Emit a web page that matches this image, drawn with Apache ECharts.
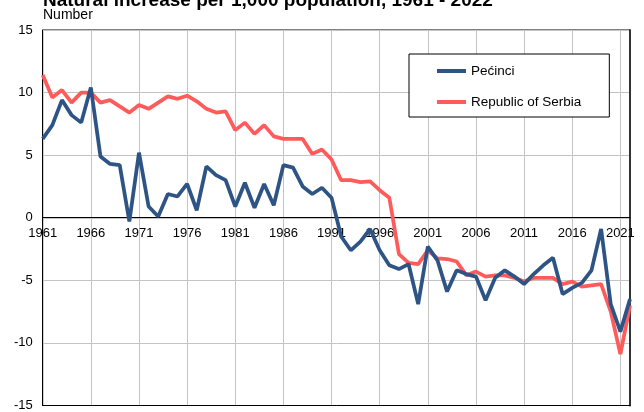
<!DOCTYPE html>
<html>
<head>
<meta charset="utf-8">
<script src="https://cdn.jsdelivr.net/npm/echarts@6/dist/echarts.min.js"></script>
<style>
html,body{margin:0;padding:0;background:#fff;}
#chart{width:644px;height:412px;}
</style>
</head>
<body>
<div id="chart"></div>
<script>
var titleText = "Natural increase per 1,000 population, 1961 - 2022";
var unitText = "Number";
var seriesNames = ["Pećinci", "Republic of Serbia"];

var years = [];
for (var y = 1961; y <= 2022; y++) years.push(String(y));

var pecinci = [
  6.3, 7.4, 9.4, 8.2, 7.6, 10.4, 4.9, 4.3, 4.2, -0.3,
  5.2, 0.9, 0.1, 1.9, 1.7, 2.7, 0.6, 4.1, 3.4, 3.0,
  0.9, 2.8, 0.8, 2.7, 1.0, 4.2, 4.0, 2.5, 1.9, 2.4,
  1.6, -1.5, -2.6, -1.9, -0.9, -2.6, -3.8, -4.1, -3.7, -6.9,
  -2.3, -3.4, -5.9, -4.2, -4.5, -4.7, -6.6, -4.8, -4.2, -4.7,
  -5.3, -4.5, -3.8, -3.2, -6.1, -5.6, -5.2, -4.2, -0.9, -6.9,
  -9.1, -6.5
];

var serbia = [
  11.4, 9.6, 10.2, 9.2, 10.0, 10.0, 9.2, 9.4, 8.9, 8.4,
  9.0, 8.7, 9.2, 9.7, 9.5, 9.75, 9.3, 8.7, 8.4, 8.5,
  7.0, 7.6, 6.7, 7.4, 6.5, 6.3, 6.3, 6.3, 5.1, 5.45,
  4.65, 3.0, 3.0, 2.85, 2.9, 2.2, 1.6, -2.9, -3.6, -3.7,
  -2.6, -3.25, -3.3, -3.5, -4.6, -4.3, -4.7, -4.6, -4.6, -4.8,
  -5.1, -4.8, -4.8, -4.8, -5.3, -5.1, -5.5, -5.4, -5.3, -7.5,
  -10.9, -7.0
];

var yMin = -15, yMax = 15, yStep = 5;

var W = 644, H = 412;
var gridTop = 30, gridBottom = 4.5;
var gridH = H - gridTop - gridBottom;
// shift the category axis (line + labels) up to the zero value
var zeroOffset = -gridH * (0 - yMin) / (yMax - yMin);

var FONT = "'Liberation Sans', Arial, sans-serif";
var chart = echarts.init(document.getElementById('chart'), null, {renderer: 'canvas'});
chart.setOption({
  animation: false,
  backgroundColor: '#ffffff',
  textStyle: {fontFamily: FONT},
  graphic: [
    {type: 'text', left: 43, top: -9, style: {text: titleText, font: "bold 19px " + FONT, fill: '#000'}},
    {type: 'text', left: 43, top: 8, style: {text: unitText, font: "14px " + FONT, fill: '#000'}}
  ],
  grid: {left: 42.7, right: 14, top: gridTop, bottom: gridBottom, show: true, borderColor: '#000', borderWidth: 1, backgroundColor: 'transparent'},
  legend: {
    orient: 'vertical', left: 409, top: 54,
    padding: [9, 28, 7, 28],
    itemGap: 15, itemWidth: 29, itemHeight: 4, icon: 'rect',
    borderColor: '#000', borderWidth: 1, backgroundColor: '#fff', borderRadius: 0,
    textStyle: {fontSize: 13.5, color: '#000', lineHeight: 16, fontFamily: FONT},
    data: seriesNames
  },
  xAxis: [{
    type: 'category', data: years, boundaryGap: false,
    position: 'bottom', offset: zeroOffset,
    axisLine: {onZero: false, lineStyle: {color: '#000', width: 1}},
    axisTick: {show: false},
    axisLabel: {interval: function (i) { return i % 5 === 0; }, margin: 10, fontSize: 13, color: '#000', fontFamily: FONT, hideOverlap: false},
    splitLine: {show: true, interval: function (i) { return i % 5 === 0; }, lineStyle: {color: '#c4c4c4', width: 1}}
  }, {
    type: 'category', data: years, boundaryGap: false,
    position: 'bottom', offset: 0,
    axisLine: {onZero: false, show: true, lineStyle: {color: '#000', width: 1}},
    axisTick: {show: false}, axisLabel: {show: false}, splitLine: {show: false}
  }],
  yAxis: [{
    type: 'value', min: yMin, max: yMax, interval: yStep,
    axisLine: {show: true, lineStyle: {color: '#000', width: 1}},
    axisTick: {show: false},
    axisLabel: {margin: 10, fontSize: 13, color: '#000', fontFamily: FONT},
    splitLine: {show: true, lineStyle: {color: '#c4c4c4', width: 1}}
  }, {
    type: 'value', min: yMin, max: yMax, interval: yStep, position: 'right',
    axisLine: {show: true, lineStyle: {color: '#333', width: 2}},
    axisTick: {show: false}, axisLabel: {show: false}, splitLine: {show: false}
  }],
  series: [
    {name: seriesNames[0], type: 'line', data: pecinci, showSymbol: false, symbol: 'none',
     lineStyle: {color: '#2e5486', width: 3.75}, itemStyle: {color: '#2e5486'}, z: 3},
    {name: seriesNames[1], type: 'line', data: serbia, showSymbol: false, symbol: 'none',
     lineStyle: {color: '#ff5b5b', width: 3.75}, itemStyle: {color: '#ff5b5b'}, z: 2}
  ]
});
</script>
</body>
</html>
